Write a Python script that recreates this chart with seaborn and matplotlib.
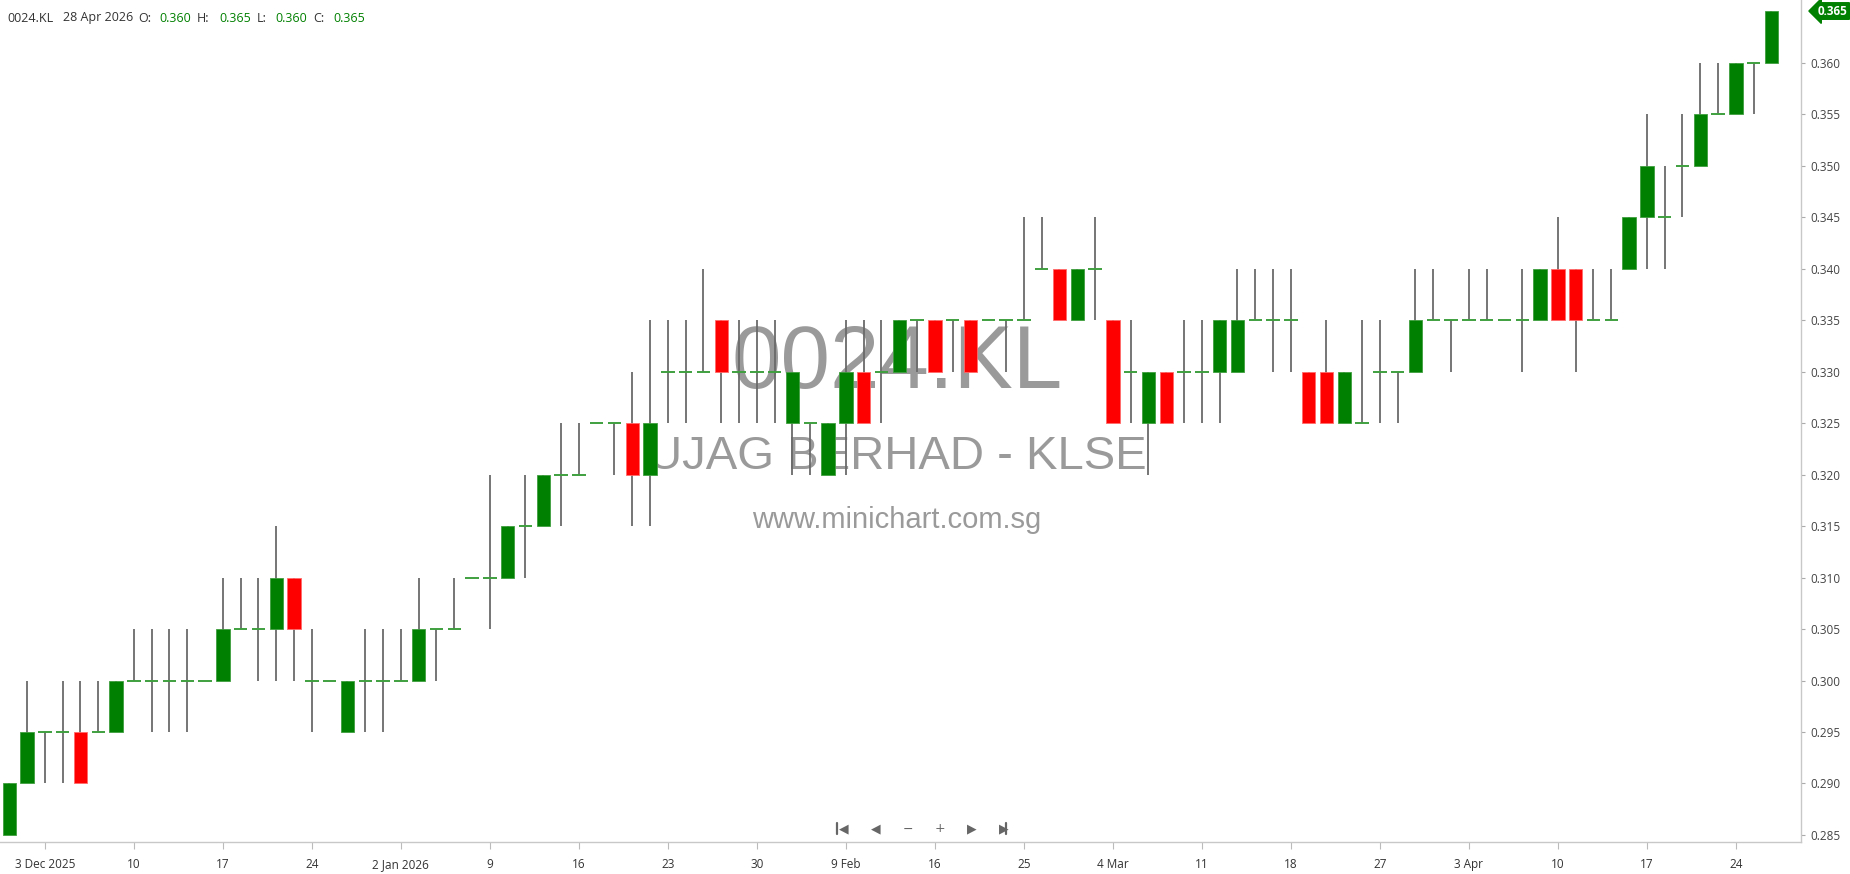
import matplotlib
matplotlib.use("Agg")
import pandas as pd
import matplotlib.pyplot as plt
from matplotlib.lines import Line2D
import seaborn as sns

# chart texts
symbol = "0024.KL"
company = "UJAG BERHAD - KLSE"
site = "www.minichart.com.sg"
last_date = "28 Apr 2026"

# daily OHLC, 1 Dec 2025 .. 28 Apr 2026 (trading days)
opens = [0.285, 0.290, 0.295, 0.295, 0.295, 0.295, 0.295, 0.300, 0.300, 0.300,
         0.300, 0.300, 0.300, 0.305, 0.305, 0.305, 0.310, 0.300, 0.300, 0.295,
         0.300, 0.300, 0.300, 0.300, 0.305, 0.305, 0.310, 0.310, 0.310, 0.315,
         0.315, 0.320, 0.320, 0.325, 0.325, 0.325, 0.320, 0.330, 0.330, 0.330,
         0.335, 0.330, 0.330, 0.330, 0.325, 0.325, 0.320, 0.325, 0.330, 0.330,
         0.330, 0.335, 0.335, 0.335, 0.335, 0.335, 0.335, 0.335, 0.340, 0.340,
         0.335, 0.340, 0.335, 0.330, 0.325, 0.330, 0.330, 0.330, 0.330, 0.330,
         0.335, 0.335, 0.335, 0.330, 0.330, 0.325, 0.325, 0.330, 0.330, 0.330,
         0.335, 0.335, 0.335, 0.335, 0.335, 0.335, 0.335, 0.340, 0.340, 0.335,
         0.335, 0.340, 0.345, 0.345, 0.350, 0.350, 0.355, 0.355, 0.360, 0.360]
highs = [0.290, 0.300, 0.295, 0.300, 0.300, 0.300, 0.300, 0.305, 0.305, 0.305,
         0.305, 0.300, 0.310, 0.310, 0.310, 0.315, 0.310, 0.305, 0.300, 0.300,
         0.305, 0.305, 0.305, 0.310, 0.305, 0.310, 0.310, 0.320, 0.315, 0.320,
         0.320, 0.325, 0.325, 0.325, 0.325, 0.330, 0.335, 0.335, 0.335, 0.340,
         0.335, 0.335, 0.335, 0.335, 0.330, 0.325, 0.325, 0.335, 0.335, 0.335,
         0.335, 0.335, 0.335, 0.335, 0.335, 0.335, 0.335, 0.345, 0.345, 0.340,
         0.340, 0.345, 0.335, 0.335, 0.330, 0.330, 0.335, 0.335, 0.335, 0.340,
         0.340, 0.340, 0.340, 0.330, 0.335, 0.330, 0.335, 0.335, 0.330, 0.340,
         0.340, 0.335, 0.340, 0.340, 0.335, 0.340, 0.340, 0.345, 0.340, 0.340,
         0.340, 0.345, 0.355, 0.350, 0.355, 0.360, 0.360, 0.360, 0.360, 0.365]
lows = [0.285, 0.290, 0.290, 0.290, 0.290, 0.295, 0.295, 0.300, 0.295, 0.295,
        0.295, 0.300, 0.300, 0.305, 0.300, 0.300, 0.300, 0.295, 0.300, 0.295,
        0.295, 0.295, 0.300, 0.300, 0.300, 0.305, 0.310, 0.305, 0.310, 0.310,
        0.315, 0.315, 0.320, 0.325, 0.320, 0.315, 0.315, 0.325, 0.325, 0.330,
        0.325, 0.325, 0.325, 0.325, 0.320, 0.320, 0.320, 0.320, 0.325, 0.325,
        0.330, 0.330, 0.330, 0.330, 0.330, 0.335, 0.330, 0.335, 0.340, 0.335,
        0.335, 0.335, 0.325, 0.325, 0.320, 0.325, 0.325, 0.325, 0.325, 0.330,
        0.335, 0.330, 0.330, 0.325, 0.325, 0.325, 0.325, 0.325, 0.325, 0.330,
        0.335, 0.330, 0.335, 0.335, 0.335, 0.330, 0.335, 0.335, 0.330, 0.335,
        0.335, 0.340, 0.340, 0.340, 0.345, 0.350, 0.355, 0.355, 0.355, 0.360]
closes = [0.290, 0.295, 0.295, 0.295, 0.290, 0.295, 0.300, 0.300, 0.300, 0.300,
          0.300, 0.300, 0.305, 0.305, 0.305, 0.310, 0.305, 0.300, 0.300, 0.300,
          0.300, 0.300, 0.300, 0.305, 0.305, 0.305, 0.310, 0.310, 0.315, 0.315,
          0.320, 0.320, 0.320, 0.325, 0.325, 0.320, 0.325, 0.330, 0.330, 0.330,
          0.330, 0.330, 0.330, 0.330, 0.330, 0.325, 0.325, 0.330, 0.325, 0.330,
          0.335, 0.335, 0.330, 0.335, 0.330, 0.335, 0.335, 0.335, 0.340, 0.335,
          0.340, 0.340, 0.325, 0.330, 0.330, 0.325, 0.330, 0.330, 0.335, 0.335,
          0.335, 0.335, 0.335, 0.325, 0.325, 0.330, 0.325, 0.330, 0.330, 0.335,
          0.335, 0.335, 0.335, 0.335, 0.335, 0.335, 0.340, 0.335, 0.335, 0.335,
          0.335, 0.345, 0.350, 0.345, 0.350, 0.355, 0.355, 0.360, 0.360, 0.365]

# weekly date labels (every 5th trading day, starting 3 Dec)
date_labels = ["3 Dec 2025", "10", "17", "24", "2 Jan 2026", "9", "16", "23", "30",
               "9 Feb", "16", "25", "4 Mar", "11", "18", "27", "3 Apr", "10", "17", "24"]
price_ticks = [0.285, 0.290, 0.295, 0.300, 0.305, 0.310, 0.315, 0.320,
               0.325, 0.330, 0.335, 0.340, 0.345, 0.350, 0.355, 0.360]

df = pd.DataFrame({"open": opens, "high": highs, "low": lows, "close": closes})
df["idx"] = range(len(df))
df["bottom"] = df[["open", "close"]].min(axis=1)
df["height"] = (df["close"] - df["open"]).abs()
up = df[df["close"] > df["open"]]
down = df[df["close"] < df["open"]]
flat = df[df["close"] == df["open"]]

GREEN = "#008000"
RED = "#ff0000"

sns.set_theme(style="white")
plt.rcParams["font.family"] = ["Open Sans", "DejaVu Sans"]

fig = plt.figure(figsize=(18.5, 8.74), dpi=100)
ax = fig.add_axes([0, 32 / 874, 1801 / 1850, 842 / 874])

# watermark behind the candles
ax.text(0.498, 0.566, symbol, transform=ax.transAxes, ha="center", va="center",
        fontsize=64, color="#9a9a9a", family="Liberation Sans", zorder=0)
ax.text(0.498, 0.457, company, transform=ax.transAxes, ha="center", va="center",
        fontsize=34, color="#9a9a9a", family="Liberation Sans", zorder=0)
ax.text(0.498, 0.382, site, transform=ax.transAxes, ha="center", va="center",
        fontsize=21, color="#9a9a9a", family="Liberation Sans", zorder=0)

# wicks
ax.vlines(df["idx"], df["low"], df["high"], color="#6a6a6a", lw=1.3, zorder=2)
# bodies
w = 0.75
ax.bar(up["idx"], up["height"], bottom=up["bottom"], width=w, color=GREEN,
       edgecolor="#3f9f3f", lw=0.6, zorder=3)
ax.bar(down["idx"], down["height"], bottom=down["bottom"], width=w, color=RED,
       edgecolor="#ff6a6a", lw=0.6, zorder=3)
ax.hlines(flat["close"], flat["idx"] - w / 2, flat["idx"] + w / 2, color="#3f9f3f",
          lw=1.4, zorder=3)

ax.set_xlim(-0.52, 100.66)
ax.set_ylim(0.28432, 0.36607)

# axes styling
sns.despine(ax=ax, left=True, top=True, right=False, bottom=False)
for side in ["right", "bottom"]:
    ax.spines[side].set_color("#c8c8c8")
    ax.spines[side].set_linewidth(1.0)

ax.yaxis.tick_right()
ax.set_yticks(price_ticks)
ax.set_yticklabels([f"{p:.3f}" for p in price_ticks])
ax.tick_params(axis="y", which="major", right=True, left=False, length=3,
               width=0.8, color="#aaaaaa", pad=4, labelsize=8.5, labelcolor="#444444")

ax.set_xticks(list(range(2, len(df), 5)))
ax.set_xticklabels(date_labels)
ax.tick_params(axis="x", which="major", bottom=True, length=5, width=0.8,
               color="#bbbbbb", pad=14, labelsize=8.5, labelcolor="#333333")
for lab in ax.get_xticklabels():
    lab.set_verticalalignment("baseline")
ax.set_xlabel("")
ax.set_ylabel("")
ax.grid(False)

# last price badge
last = df.iloc[-1]
ax.annotate(f"{last['close']:.3f}", xy=(1.0, last["close"]),
            xycoords=ax.get_yaxis_transform(), xytext=(12, 0),
            textcoords="offset points", ha="left", va="center", fontsize=8.5,
            color="white", fontweight="bold",
            bbox=dict(boxstyle="larrow,pad=0.15", fc=GREEN, ec=GREEN))

# header line
H = 874.0
W = 1850.0
hy = 1 - 18 / H
hdr = [(7, symbol, "#333333"), (63, last_date, "#333333"),
       (138, "O:", "#333333"), (159, f"{last['open']:.3f}", GREEN),
       (197, "H:", "#333333"), (219, f"{last['high']:.3f}", GREEN),
       (257, "L:", "#333333"), (275, f"{last['low']:.3f}", GREEN),
       (313, "C:", "#333333"), (333, f"{last['close']:.3f}", GREEN)]
for px, txt, col in hdr:
    fig.text(px / W, hy, txt, ha="left", va="center", fontsize=9, color=col)

# navigation icons (first/last drawn as bar + triangle, no font has them)
ny = 1 - 829 / H
icons = ["◀", "◀", "−", "+", "▶", "▶"]
for k, ic in enumerate(icons):
    fig.text((844 + 32 * k) / W, ny, ic, ha="center", va="center",
             fontsize=9, color="#666666", family=["DejaVu Sans"])
for bx in [837, 1006]:
    fig.add_artist(Line2D([bx / W, bx / W], [ny - 5 / H, ny + 6 / H],
                          transform=fig.transFigure, color="#666666", lw=1.6))

fig.savefig("out.png", dpi=100)
